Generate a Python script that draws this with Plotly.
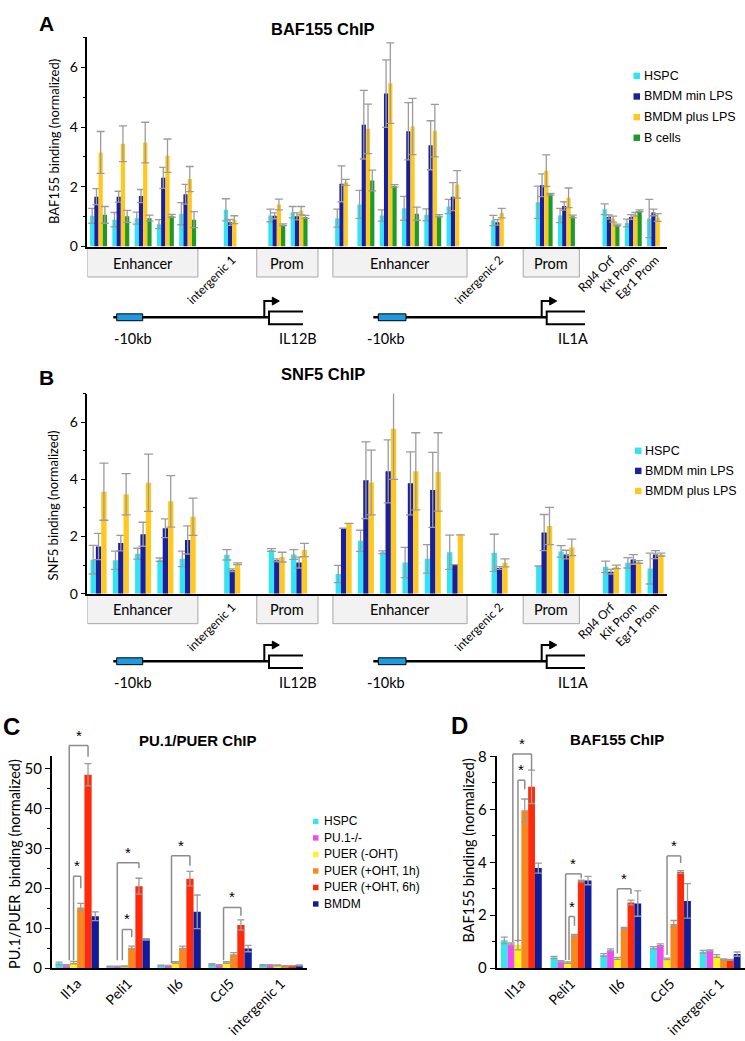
import plotly.graph_objects as go

W, H = 745, 1041


def X(px):
    return px / W


def Y(py):
    return 1 - py / H


FONT_C = "Lato, 'Open Sans', sans-serif"
FONT_A = "'Liberation Sans', Arial, sans-serif"

# ------------------------------------------------------------------ panels A / B
ab_sites = ["IL12B enh 1", "IL12B enh 2", "IL12B enh 3", "IL12B enh 4", "IL12B enh 5",
            "intergenic 1", "IL12B prom 1", "IL12B prom 2",
            "IL1A enh 1", "IL1A enh 2", "IL1A enh 3", "IL1A enh 4", "IL1A enh 5", "IL1A enh 6",
            "intergenic 2", "IL1A prom 1", "IL1A prom 2",
            "Rpl4 Orf", "Kit Prom", "Egr1 Prom"]
ab_slot = [0, 1, 2, 3, 4, 6, 8, 9, 11, 12, 13, 14, 15, 16, 18, 20, 21, 23, 24, 25]
ab_tick_slots = [6, 18, 23, 24, 25]
ab_tick_labels = ["intergenic 1", "intergenic 2", "Rpl4 Orf", "Kit Prom", "Egr1 Prom"]
ab_regions = ["Enhancer", "Prom", "Enhancer", "Prom"]
ab_region_start = [-0.5, 7.1, 10.52, 19.06]
ab_region_end = [4.46, 9.85, 16.54, 21.58]

ab_series = ["HSPC", "BMDM min LPS", "BMDM plus LPS", "B cells"]

a_hspc = [1.03, 0.90, 0.95, 0.75, 1.10, 1.23, 1.04, 1.15, 0.95, 1.41, 1.04, 1.28, 1.06, 1.34, 0.87, 1.48, 1.04, 1.25, 0.79, 0.94]
a_hspc_err = [0.25, 0.24, 0.20, 0.15, 0.37, 0.37, 0.21, 0.19, 0.30, 0.47, 0.19, 0.40, 0.20, 0.24, 0.17, 0.54, 0.24, 0.18, 0.13, 0.64]
a_min = [1.67, 1.67, 1.69, 2.30, 1.75, 0.81, 1.03, 1.01, 2.10, 4.08, 5.12, 3.86, 3.39, 1.67, 0.81, 2.05, 1.36, 0.99, 0.99, 1.14]
a_min_err = [0.27, 0.18, 0.22, 0.35, 0.33, 0.10, 0.10, 0.12, 0.60, 1.15, 1.13, 0.96, 0.82, 0.47, 0.09, 0.38, 0.14, 0.07, 0.08, 0.11]
a_plus = [3.15, 3.44, 3.48, 3.04, 2.26, 0.90, 1.41, 1.20, 2.15, 3.94, 5.47, 4.02, 3.88, 2.08, 1.12, 2.54, 1.63, 0.92, 1.08, 0.97]
a_plus_err = [0.70, 0.60, 0.68, 0.56, 0.42, 0.13, 0.18, 0.14, 0.10, 0.83, 1.35, 0.94, 0.88, 0.46, 0.16, 0.53, 0.33, 0.10, 0.06, 0.13]
a_bcell = [1.06, 1.01, 0.95, 1.03, 0.90, None, 0.73, 0.99, None, 2.21, 2.03, 1.10, 1.03, None, None, 1.75, 1.01, 0.72, 1.20, None]
a_bcell_err = [0.28, 0.20, 0.10, 0.05, 0.27, None, 0.03, 0.05, None, 0.35, 0.04, 0.22, 0.04, None, None, 0.03, 0.04, 0.03, 0.03, None]

b_hspc = [1.19, 1.17, 1.40, 1.19, 1.22, 1.36, 1.53, 1.37, 0.69, 1.85, 1.45, 1.09, 1.22, 1.45, 1.43, 0.97, 1.48, 0.94, 1.08, 0.88]
b_hspc_err = [0.50, 0.32, 0.19, 0.06, 0.27, 0.18, 0.05, 0.17, 0.30, 0.37, 0.05, 0.53, 0.50, 0.60, 0.65, None, 0.20, 0.20, 0.18, 0.54]
b_min = [1.65, 1.77, 2.08, 2.29, 1.88, 0.82, 1.17, 1.09, 2.29, 3.97, 4.28, 3.86, 3.63, 1.02, 0.90, 2.14, 1.37, 0.77, 1.20, 1.37]
b_min_err = [0.46, 0.27, 0.42, 0.33, 0.49, 0.05, 0.05, 0.19, None, 1.34, 1.10, 1.10, 1.31, None, 0.05, 0.63, 0.15, 0.08, 0.17, 0.14]
b_plus = [3.57, 3.48, 3.88, 3.23, 2.69, 1.05, 1.28, 1.53, 2.46, 3.89, 5.77, 4.28, 4.26, 2.06, 1.08, 2.37, 1.62, 0.94, 1.11, 1.37]
b_plus_err = [1.00, 0.72, 1.00, 0.90, 0.65, 0.03, 0.17, 0.23, None, 1.13, 1.77, 1.35, 1.37, None, 0.14, 0.65, 0.29, 0.06, 0.05, 0.05]

AB_COLORS = ["#30E4F4", "#1A1F9C", "#FFC820", "#1E9A28"]

# ------------------------------------------------------------------ panels C / D
cd_genes = ["Il1a", "Peli1", "Il6", "Ccl5", "intergenic 1"]
cd_series = ["HSPC", "PU.1-/-", "PUER (-OHT)", "PUER (+OHT, 1h)", "PUER (+OHT, 6h)", "BMDM"]
CD_COLORS = ["#38E4F0", "#F04BF0", "#FFF21A", "#F7871E", "#FF2A0A", "#101C9A"]

c_vals = [
    [1.2, 0.4, 0.65, 0.9, 0.75],
    [0.7, 0.4, 0.6, 0.75, 0.75],
    [1.4, 0.45, 1.4, 1.4, 0.7],
    [15.2, 5.1, 5.1, 3.5, 0.6],
    [48.4, 20.5, 22.4, 10.8, 0.6],
    [13.0, 7.2, 14.1, 4.9, 0.7],
]
c_errs = [
    [0.3, 0.1, 0.1, 0.2, 0.1],
    [0.2, 0.1, 0.1, 0.1, 0.1],
    [0.3, 0.1, 0.2, 0.2, 0.1],
    [1.0, 0.4, 0.4, 0.4, 0.05],
    [2.8, 2.0, 1.8, 1.3, 0.05],
    [1.1, 0.2, 4.2, 0.8, 0.1],
]
d_vals = [
    [1.05, 0.40, 0.50, 0.77, 0.62],
    [0.90, 0.25, 0.68, 0.87, 0.66],
    [0.87, 0.21, 0.37, 0.35, 0.46],
    [5.96, 1.24, 1.51, 1.67, 0.33],
    [6.85, 3.29, 2.48, 3.63, 0.31],
    [3.78, 3.31, 2.44, 2.54, 0.53],
]
d_errs = [
    [0.12, 0.04, 0.05, 0.04, 0.05],
    [0.05, 0.03, 0.05, 0.05, 0.03],
    [0.18, 0.03, 0.04, 0.03, 0.05],
    [0.43, 0.03, 0.03, 0.13, 0.02],
    [0.63, 0.03, 0.09, 0.05, 0.02],
    [0.19, 0.16, 0.48, 0.65, 0.08],
]
# significance brackets: (gene, from series, to series, bracket top, right leg end, left leg end, left shift)
c_sig = [(0, 2, 4, 55.7, 52.9, 2.0, -0.6), (0, 2, 3, 23.0, 20.0, 2.0, 0.0),
         (1, 2, 4, 26.4, 25.0, 2.0, -1.0), (1, 2, 3, 9.7, 7.8, 2.0, -0.3),
         (2, 2, 4, 28.1, 25.6, 1.2, -0.55), (3, 2, 4, 15.2, 13.1, 2.0, -0.4)]
d_sig = [(0, 2, 4, 8.09, 7.48, 0.99, -0.75), (0, 2, 3, 7.10, 6.76, 1.0, 0.0),
         (1, 2, 4, 3.56, 3.39, 0.31, -0.3), (1, 2, 3, 1.95, 1.60, 0.31, 0.2),
         (2, 2, 4, 3.00, 2.80, 0.56, 0.0), (3, 2, 4, 4.24, 3.97, 0.50, 0.0)]

C_YMAX, D_YMAX = 53, 8

fig = go.Figure()

ERR = dict(type="data", visible=True, color="#9B9B9B", thickness=1.3)


def add_group(vals_list, errs_list, names, colors, xs, bw, xa, ya, ew):
    n = len(vals_list)
    gw = n * bw
    for i in range(n):
        fig.add_trace(go.Bar(
            x=xs, y=vals_list[i], name=names[i], showlegend=False,
            marker=dict(color=colors[i], line=dict(width=0)),
            width=bw, offset=-gw / 2 + i * bw, xaxis=xa, yaxis=ya,
            error_y=dict(ERR, array=errs_list[i], width=ew)))


add_group([a_hspc, a_min, a_plus, a_bcell], [a_hspc_err, a_min_err, a_plus_err, a_bcell_err],
          ab_series, AB_COLORS, ab_slot, 0.19, "x", "y", 4)
add_group([b_hspc, b_min, b_plus], [b_hspc_err, b_min_err, b_plus_err],
          ab_series[:3], AB_COLORS[:3], ab_slot, 0.24, "x2", "y2", 4.5)
C_BW, D_BW = 0.142, 0.137
add_group(c_vals, c_errs, cd_series, CD_COLORS, list(range(5)), C_BW, "x3", "y3", 3.5)
add_group(d_vals, d_errs, cd_series, CD_COLORS, list(range(5)), D_BW, "x4", "y4", 3.5)

shapes = []
annotations = []


def text(x, y, s, size, family=FONT_C, bold=False, xanchor="center", angle=0, xref="paper", yref="paper"):
    annotations.append(dict(
        x=x, y=y, xref=xref, yref=yref, text=("<b>%s</b>" % s) if bold else s, showarrow=False,
        font=dict(family=family, size=size, color="black"), xanchor=xanchor, yanchor="middle",
        textangle=angle))


# region boxes under A/B axes
for xa, ytop, ybot, ytext in [("x", 241.7, 271.7, 257.5), ("x2", 595, 624.5, 610)]:
    for lab, s, e in zip(ab_regions, ab_region_start, ab_region_end):
        shapes.append(dict(type="rect", xref=xa, yref="paper", x0=s, x1=e, y0=Y(ybot), y1=Y(ytop),
                           fillcolor="#F2F2F2", line=dict(color="#A6A6A6", width=1), layer="below"))
        text((s + e) / 2, Y(ytext), lab, 14.5, xref=xa)


# gene diagrams
def path(pts, close=False):
    p = "M " + " L ".join("%.5f,%.5f" % (X(a), Y(b)) for a, b in pts)
    return p + (" Z" if close else "")


def gene(x_start, b0, b1, ax_, g0, g1, yl, lab_l_x, lab_r_x, lab_r, lab_y):
    shapes.append(dict(type="line", xref="paper", yref="paper", x0=X(x_start), x1=X(g0), y0=Y(yl), y1=Y(yl),
                       line=dict(color="black", width=2.5)))
    shapes.append(dict(type="rect", xref="paper", yref="paper", x0=X(b0), x1=X(b1), y0=Y(yl + 3.5), y1=Y(yl - 3.5),
                       fillcolor="#1E9BE0", line=dict(color="black", width=1)))
    ya = yl - 16.5
    shapes.append(dict(type="path", xref="paper", yref="paper", path=path([(ax_, yl), (ax_, ya), (ax_ + 9, ya)]),
                       line=dict(color="black", width=2)))
    shapes.append(dict(type="path", xref="paper", yref="paper",
                       path=path([(ax_ + 8, ya - 4), (ax_ + 15, ya), (ax_ + 8, ya + 4)], close=True),
                       fillcolor="black", line=dict(color="black", width=1)))
    shapes.append(dict(type="path", xref="paper", yref="paper",
                       path=path([(g1, yl - 5.8), (g0, yl - 5.8), (g0, yl + 7), (g1, yl + 7)]),
                       line=dict(color="black", width=2)))
    text(X(lab_l_x), Y(lab_y), "-10kb", 14.5)
    text(X(lab_r_x), Y(lab_y), lab_r, 14.5)


for yl, ly in [(312.7, 334), (662.7, 684)]:
    gene(113.3, 116.7, 142.7, 264.3, 269, 303, yl, 133, 297.5, "IL12B", ly)
    gene(373.3, 378.3, 406, 541.7, 546.7, 585, yl, 386, 572.7, "IL1A", ly)


# legends
def legend(items, colors, x_sq, sq, x_txt, y0, dy, size):
    for i, (lab, col) in enumerate(zip(items, colors)):
        yc = y0 + i * dy
        shapes.append(dict(type="rect", xref="paper", yref="paper", x0=X(x_sq), x1=X(x_sq + sq),
                           y0=Y(yc + sq / 2), y1=Y(yc - sq / 2), fillcolor=col, line=dict(width=0)))
        text(X(x_txt), Y(yc), lab, size, family=FONT_A, xanchor="left")


legend(ab_series, AB_COLORS, 633.5, 6.5, 641.5, 67, 21, 12.5)
legend(ab_series[:3], AB_COLORS[:3], 635, 6.5, 642.5, 448.5, 20.5, 12.5)
legend(cd_series, CD_COLORS, 313, 5.5, 321.5, 825.7, 16.8, 12)


# significance brackets
def brackets(sig, bw, n, xa, ya, ymax):
    gw = n * bw
    for g, s, t, top, rb, lb, ls in sig:
        xl = g - gw / 2 + (s + 0.5) * bw + ls * bw
        xr = g - gw / 2 + (t + 0.5) * bw
        yd = ya + " domain"
        ln = dict(color="#8C8C8C", width=1.5)
        shapes.append(dict(type="line", xref=xa, yref=yd, x0=xl, x1=xl, y0=lb / ymax, y1=top / ymax, line=ln))
        shapes.append(dict(type="line", xref=xa, yref=yd, x0=xl, x1=xr, y0=top / ymax, y1=top / ymax, line=ln))
        shapes.append(dict(type="line", xref=xa, yref=yd, x0=xr, x1=xr, y0=rb / ymax, y1=top / ymax, line=ln))
        annotations.append(dict(x=(xl + xr) / 2, y=top / ymax, xref=xa, yref=yd, text="*", showarrow=False,
                                font=dict(family=FONT_A, size=15, color="black"), yanchor="bottom"))


brackets(c_sig, C_BW, 6, "x3", "y3", C_YMAX)
brackets(d_sig, D_BW, 6, "x4", "y4", D_YMAX)

# panel letters, titles, axis titles
text(X(46.7), Y(13.5), "A", 21, FONT_A, True)
text(X(46.7), Y(374), "B", 21, FONT_A, True)
text(X(11), Y(729), "C", 24, FONT_A, True)
text(X(459), Y(728), "D", 24, FONT_A, True)
text(X(323), Y(19), "BAF155 ChIP", 16.5, FONT_A, True)
text(X(323), Y(370), "SNF5 ChIP", 16.5, FONT_A, True)
text(X(198), Y(743.5), "PU.1/PUER ChIP", 15, FONT_A, True)
text(X(616.5), Y(742.5), "BAF155 ChIP", 15, FONT_A, True)
text(X(53.3), Y(134), "BAF155 binding (normalized)", 13, angle=-90)
text(X(53.3), Y(504), "SNF5 binding (normalized)", 13, angle=-90)
text(X(15), Y(869), "PU.1/PUER  binding (normalized)", 14.5, angle=-90)
text(X(468.3), Y(855), "BAF155 binding (normalized)", 14.5, angle=-90)

yax = dict(showline=True, linecolor="black", linewidth=1.5, ticks="outside", ticklen=5, tickwidth=1.2,
           tickcolor="black", showgrid=False, zeroline=False, tick0=0,
           tickfont=dict(family=FONT_C, size=14, color="black"))
xax = dict(showline=True, linecolor="black", linewidth=1.5, ticks="", showgrid=False, zeroline=False,
           tickangle=-45, tickfont=dict(family=FONT_C, size=12, color="black"))

fig.update_layout(
    width=W, height=H, margin=dict(l=0, r=0, t=0, b=0),
    paper_bgcolor="white", plot_bgcolor="white", barmode="overlay", showlegend=False,
    xaxis=dict(xax, domain=[X(87.4), X(666.7)], range=[-0.5, 25.5], anchor="y",
               tickmode="array", tickvals=ab_tick_slots, ticktext=ab_tick_labels),
    yaxis=dict(yax, domain=[Y(240.7), Y(27.9)], range=[0, 7], dtick=2, anchor="x",
               minor=dict(dtick=1, ticks="outside", ticklen=3, tickcolor="black", tickwidth=1)),
    xaxis2=dict(xax, domain=[X(87.4), X(666.7)], range=[-0.5, 25.5], anchor="y2",
                tickmode="array", tickvals=ab_tick_slots, ticktext=ab_tick_labels),
    yaxis2=dict(yax, domain=[Y(594), Y(390.3)], range=[0, 7], dtick=2, anchor="x2",
                minor=dict(dtick=1, ticks="outside", ticklen=3, tickcolor="black", tickwidth=1)),
    xaxis3=dict(xax, domain=[X(51.7), X(306.5)], range=[-0.5, 4.5], anchor="y3",
                tickmode="array", tickvals=list(range(5)), ticktext=cd_genes,
                tickfont=dict(family=FONT_C, size=14, color="black")),
    yaxis3=dict(yax, domain=[Y(975), Y(759.5)], range=[0, C_YMAX], dtick=10, anchor="x3",
                tickfont=dict(family=FONT_C, size=15, color="black"),
                minor=dict(dtick=5, ticks="outside", ticklen=3, tickcolor="black", tickwidth=1)),
    xaxis4=dict(xax, domain=[X(496.5), 1.0], range=[-0.5, 4.5], anchor="y4",
                tickmode="array", tickvals=list(range(5)), ticktext=cd_genes,
                tickfont=dict(family=FONT_C, size=14, color="black")),
    yaxis4=dict(yax, domain=[Y(975), Y(759.5)], range=[0, D_YMAX], dtick=2, anchor="x4",
                tickfont=dict(family=FONT_C, size=15, color="black"),
                minor=dict(dtick=1, ticks="outside", ticklen=3, tickcolor="black", tickwidth=1)),
    shapes=shapes, annotations=annotations,
)

fig.write_html("out.html", config={"displayModeBar": False},
               post_script="document.body.style.margin='0';document.body.style.overflow='hidden';")
